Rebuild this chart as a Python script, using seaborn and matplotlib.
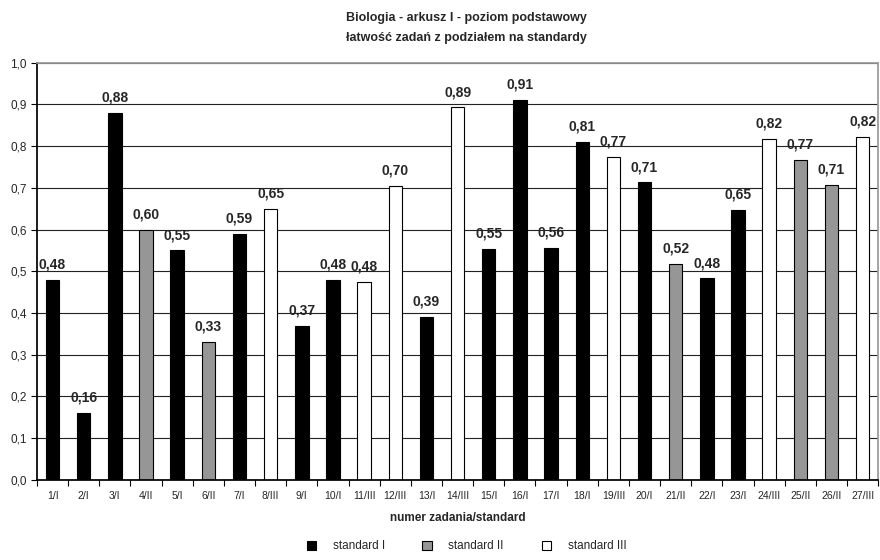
import pandas as pd
import seaborn as sns
import matplotlib.pyplot as plt
from matplotlib.patches import Patch
from matplotlib.ticker import MultipleLocator, FuncFormatter

# Data
tasks = [str(i) for i in range(1, 28)]
standards = ['I', 'I', 'I', 'II', 'I', 'II', 'I', 'III', 'I', 'I', 'III', 'III', 'I', 'III',
             'I', 'I', 'I', 'I', 'III', 'I', 'II', 'I', 'I', 'III', 'II', 'II', 'III']
values = [0.48, 0.16, 0.88, 0.60, 0.55, 0.33, 0.59, 0.65, 0.37, 0.48, 0.475, 0.705, 0.39, 0.893,
          0.553, 0.91, 0.556, 0.81, 0.775, 0.713, 0.518, 0.483, 0.648, 0.818, 0.767, 0.707, 0.823]
value_labels = ['0,48', '0,16', '0,88', '0,60', '0,55', '0,33', '0,59', '0,65', '0,37', '0,48',
                '0,48', '0,70', '0,39', '0,89', '0,55', '0,91', '0,56', '0,81', '0,77', '0,71',
                '0,52', '0,48', '0,65', '0,82', '0,77', '0,71', '0,82']

df = pd.DataFrame({'task': tasks, 'standard': standards, 'value': values})
df['label'] = df['task'] + '/' + df['standard']

colors = {'I': '#000000', 'II': '#969696', 'III': '#ffffff'}

sns.set_theme(style="white")
plt.rcParams['font.family'] = ['Liberation Sans', 'DejaVu Sans']

fig = plt.figure(figsize=(8.8, 5.6), dpi=100)
ax = fig.add_axes([0.042, 0.143, 0.956, 0.745])

sns.barplot(data=df, x='label', y='value', hue='standard', palette=colors,
            dodge=False, width=0.43, edgecolor='black', linewidth=0.8,
            legend=False, ax=ax)

ax.set_ylim(0, 1.0)
ax.set_xlim(-0.5, len(df) - 0.5)
ax.yaxis.set_major_locator(MultipleLocator(0.1))
ax.yaxis.set_major_formatter(FuncFormatter(lambda v, p: f'{v:.1f}'.replace('.', ',')))
ax.grid(axis='y', color='#222222', linewidth=0.8)
ax.set_axisbelow(True)

# x ticks between categories
ax.set_xticks(range(len(df)))
ax.set_xticklabels(df['label'], fontsize=7.5)
ax.set_xticks([i - 0.5 for i in range(len(df) + 1)], minor=True)
ax.tick_params(axis='x', which='major', length=0, pad=8)
ax.tick_params(axis='x', which='minor', length=4, color='black', width=0.8, bottom=True)
ax.tick_params(axis='y', length=4, color='black', width=0.8, left=True, labelsize=8.5)

for side in ['top', 'right']:
    ax.spines[side].set_color('#999999')
for side in ['left', 'bottom']:
    ax.spines[side].set_color('black')

for i, (v, lab) in enumerate(zip(values, value_labels)):
    ax.text(i, v + 0.02, lab, ha='center', va='bottom', fontsize=10, fontweight='bold')

ax.set_xlabel('numer zadania/standard', fontsize=8.5, fontweight='bold', labelpad=8)
ax.set_ylabel('')
fig.text(0.53, 0.95, 'Biologia - arkusz I - poziom podstawowy\nłatwość zadań z podziałem na standardy',
         ha='center', va='center', fontsize=9, fontweight='bold', linespacing=1.8)

handles = [Patch(facecolor=colors[s], edgecolor='black', linewidth=0.8) for s in ['I', 'II', 'III']]
fig.legend(handles, ['standard I', 'standard II', 'standard III'], loc='lower center',
           bbox_to_anchor=(0.53, -0.005), ncol=3, frameon=False, fontsize=8.5,
           handlelength=0.8, handleheight=0.8, handletextpad=1.4, columnspacing=3.2)

fig.savefig('out.png', dpi=100)
